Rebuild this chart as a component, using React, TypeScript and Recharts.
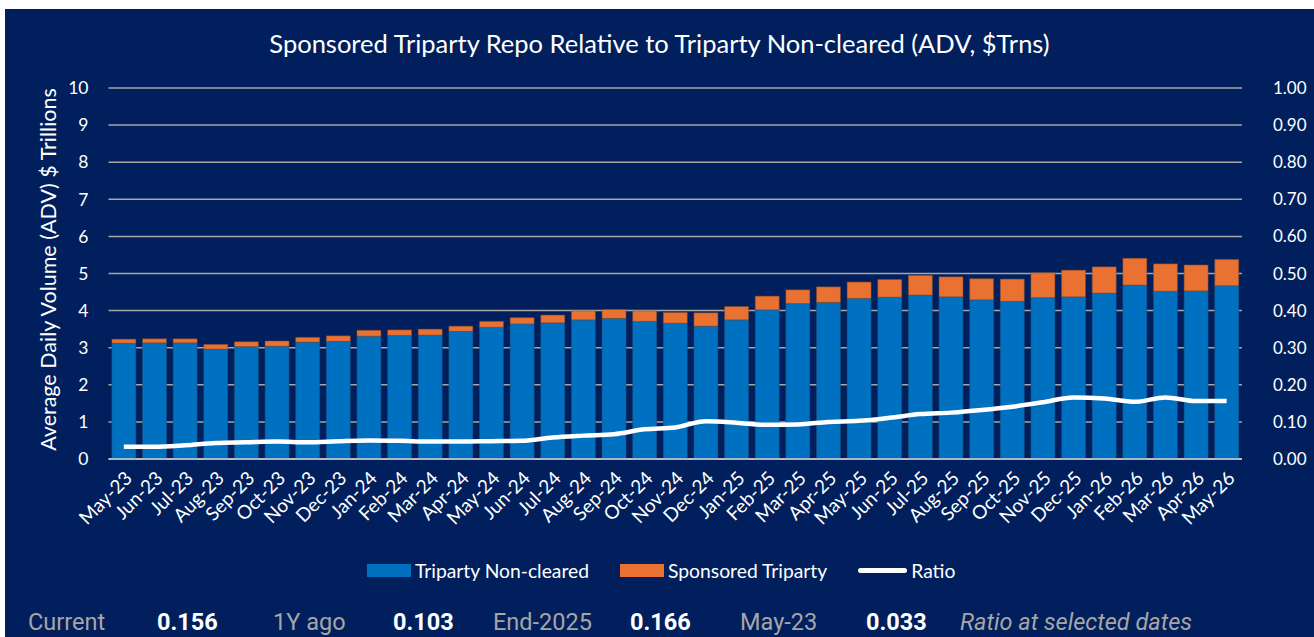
import React from "react";
import { ComposedChart, Bar, Line, XAxis, YAxis, CartesianGrid } from "recharts";

const months = ["May-23","Jun-23","Jul-23","Aug-23","Sep-23","Oct-23","Nov-23","Dec-23","Jan-24","Feb-24","Mar-24","Apr-24","May-24","Jun-24","Jul-24","Aug-24","Sep-24","Oct-24","Nov-24","Dec-24","Jan-25","Feb-25","Mar-25","Apr-25","May-25","Jun-25","Jul-25","Aug-25","Sep-25","Oct-25","Nov-25","Dec-25","Jan-26","Feb-26","Mar-26","Apr-26","May-26"];
const nonCleared = [3.12,3.13,3.13,2.96,3.03,3.04,3.15,3.17,3.31,3.33,3.34,3.44,3.55,3.64,3.67,3.75,3.79,3.71,3.66,3.58,3.75,4.02,4.19,4.22,4.33,4.36,4.42,4.37,4.29,4.25,4.35,4.37,4.47,4.69,4.52,4.53,4.67];
const totals = [3.23,3.24,3.24,3.09,3.16,3.18,3.28,3.32,3.47,3.48,3.50,3.58,3.71,3.81,3.88,3.99,4.03,3.99,3.95,3.94,4.11,4.39,4.56,4.64,4.77,4.84,4.95,4.91,4.86,4.85,5.02,5.09,5.18,5.41,5.26,5.23,5.38];
const sponsored = totals.map((t, i) => +(t - nonCleared[i]).toFixed(2));
const ratio = [0.033,0.033,0.037,0.043,0.045,0.047,0.045,0.048,0.050,0.049,0.047,0.047,0.048,0.049,0.058,0.063,0.067,0.080,0.085,0.102,0.098,0.092,0.093,0.100,0.103,0.111,0.121,0.125,0.132,0.141,0.153,0.166,0.163,0.154,0.166,0.156,0.156];

const leftTicks = [0,1,2,3,4,5,6,7,8,9,10];
const rightTicks = [0,0.1,0.2,0.3,0.4,0.5,0.6,0.7,0.8,0.9,1.0];

const selectedLabels = ["Current","1Y ago","End-2025","May-23"];
const selectedValues = ["0.156","0.103","0.166","0.033"];
const selectedNote = "Ratio at selected dates";

const seriesNames = ["Triparty Non-cleared","Sponsored Triparty","Ratio"];
const titleText = "Sponsored Triparty Repo Relative to Triparty Non-cleared (ADV, $Trns)";
const yLabel = "Average Daily Volume (ADV) $ Trillions";

const data = months.map((m, i) => ({ month: m, nonCleared: nonCleared[i], sponsored: sponsored[i], ratio: ratio[i] }));

const BG = "#001F5C";
const BLUE = "#0070C0";
const ORANGE = "#E97132";
const FONT = "Lato, 'Open Sans', sans-serif";
const BFONT = "Roboto, sans-serif";

const XTick = (props: any) => {
  const { x, y, payload } = props;
  return (
    <g transform={`translate(${x + 1},${y + 4})`}>
      <text x={0} y={0} dy={12} textAnchor="end" fill="#FFFFFF" fontSize={19} fontFamily={FONT} transform="rotate(-45)">
        {payload.value}
      </text>
    </g>
  );
};

const swatches = [
  <div style={{ width: 44, height: 13, background: BLUE }} />,
  <div style={{ width: 44, height: 13, background: ORANGE }} />,
  <div style={{ width: 49, height: 5, borderRadius: 3, background: "#FFFFFF" }} />,
];

const selLefts = [23, 268, 488, 735];
const valLefts = [152, 388, 625, 861];

export default function App() {
  return (
    <div style={{ position: "absolute", left: 5, top: 9, width: 1309, height: 628, background: BG, overflow: "hidden", fontFamily: FONT }}>
      <div style={{ position: "absolute", top: 19, left: 0, width: 1309, textAlign: "center", color: "#FFFFFF", fontSize: 25.5, fontFamily: FONT }}>
        {titleText}
      </div>
      <ComposedChart width={1309} height={628} data={data} margin={{ top: 79, right: 12, bottom: 88, left: 20 }} barCategoryGap="11%">
        <CartesianGrid yAxisId="left" vertical={false} stroke="#A6A6A6" strokeWidth={1.5} />
        <XAxis dataKey="month" interval={0} tick={<XTick />} tickLine={false} axisLine={{ stroke: "#D0D0D0", strokeWidth: 1.5 }} height={90} tickMargin={2} />
        <YAxis yAxisId="left" domain={[0, 10]} ticks={leftTicks} width={83.5} tickLine={false} axisLine={false} tickMargin={14}
          tick={{ fill: "#FFFFFF", fontSize: 17.5, fontFamily: FONT }}
          label={{ value: yLabel, angle: -90, position: "center", dx: -18, dy: -4, fill: "#FFFFFF", fontSize: 21.5, fontFamily: FONT }} />
        <YAxis yAxisId="right" orientation="right" domain={[0, 1]} ticks={rightTicks} width={60} tickLine={false} axisLine={false} tickMargin={25}
          tickFormatter={(v: number) => v.toFixed(2)} tick={{ fill: "#FFFFFF", fontSize: 17, fontFamily: FONT, textAnchor: "start" }} />
        <Bar yAxisId="left" dataKey="nonCleared" stackId="a" fill={BLUE} stroke="#1F4E79" strokeWidth={0.5} isAnimationActive={false} name={seriesNames[0]} />
        <Bar yAxisId="left" dataKey="sponsored" stackId="a" fill={ORANGE} stroke="#7F4A2A" strokeWidth={0.5} isAnimationActive={false} name={seriesNames[1]} />
        <Line yAxisId="right" dataKey="ratio" type="monotone" stroke="#FFFFFF" strokeWidth={4.5} dot={false} isAnimationActive={false} name={seriesNames[2]} />
      </ComposedChart>
      <div style={{ position: "absolute", top: 549, left: 362, display: "flex", alignItems: "center", height: 24 }}>
        {seriesNames.map((n, i) => (
          <div key={i} style={{ display: "flex", alignItems: "center", marginRight: i < 2 ? 31 : 0 }}>
            {swatches[i]}
            <span style={{ marginLeft: 4, color: "#FFFFFF", fontSize: 19.3, fontFamily: FONT }}>{n}</span>
          </div>
        ))}
      </div>
      {selectedLabels.map((l, i) => (
        <span key={"l" + i} style={{ position: "absolute", top: 599, left: selLefts[i], color: "#A6A6A6", fontSize: 23.5, fontFamily: BFONT }}>{l}</span>
      ))}
      {selectedValues.map((v, i) => (
        <span key={"v" + i} style={{ position: "absolute", top: 599, left: valLefts[i], color: "#FFFFFF", fontSize: 23.5, fontWeight: 700, fontFamily: BFONT }}>{v}</span>
      ))}
      <span style={{ position: "absolute", top: 599, left: 955, color: "#A6A6A6", fontSize: 23.5, fontStyle: "italic", fontFamily: BFONT }}>{selectedNote}</span>
    </div>
  );
}
